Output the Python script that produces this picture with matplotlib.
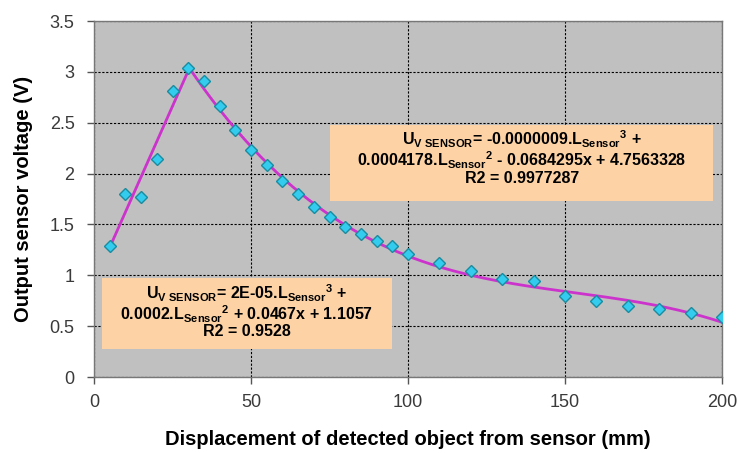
import numpy as np
import matplotlib
matplotlib.use("Agg")
import matplotlib.pyplot as plt

plt.rcParams['font.family'] = ['Liberation Sans', 'DejaVu Sans']
plt.rcParams['mathtext.fontset'] = 'custom'
plt.rcParams['mathtext.rm'] = 'Liberation Sans:bold'
plt.rcParams['mathtext.it'] = 'Liberation Sans:bold'
plt.rcParams['mathtext.bf'] = 'Liberation Sans:bold'
plt.rcParams['mathtext.default'] = 'rm'

# Data
distance_mm = [5, 10, 15, 20, 25, 30, 35, 40, 45, 50, 55, 60, 65, 70, 75, 80,
               85, 90, 95, 100, 110, 120, 130, 140, 150, 160, 170, 180, 190, 200]
voltage_v = [1.29, 1.80, 1.77, 2.14, 2.81, 3.04, 2.91, 2.66, 2.43, 2.23, 2.08,
             1.93, 1.80, 1.67, 1.57, 1.47, 1.41, 1.34, 1.29, 1.21, 1.12, 1.04,
             0.96, 0.94, 0.80, 0.75, 0.70, 0.67, 0.63, 0.59]
split_mm = 30
fit_degree_left = 1
fit_degree_right = 3
x_ticks = [0, 50, 100, 150, 200]
y_ticks = [0, 0.5, 1, 1.5, 2, 2.5, 3, 3.5]
y_tick_labels = ['0', '0.5', '1', '1.5', '2', '2.5', '3', '3.5']

eq_left = ("U$_{\\mathrm{V\\ SENSOR}}$= 2E-05.L$_{\\mathrm{Sensor}}$$^{\\mathrm{3}}$ +\n"
           "0.0002.L$_{\\mathrm{Sensor}}$$^{\\mathrm{2}}$ + 0.0467x + 1.1057\n"
           "R2 = 0.9528")
eq_right = ("U$_{\\mathrm{V\\ SENSOR}}$= -0.0000009.L$_{\\mathrm{Sensor}}$$^{\\mathrm{3}}$ +\n"
            "0.0004178.L$_{\\mathrm{Sensor}}$$^{\\mathrm{2}}$ - 0.0684295x + 4.7563328\n"
            "R2 = 0.9977287")

x = np.array(distance_mm, dtype=float)
y = np.array(voltage_v, dtype=float)

fig = plt.figure(figsize=(7.39, 4.53), dpi=100)
ax = fig.add_axes([94/739, 1 - 377/453, (722-94)/739, (377-21)/453])
ax.set_facecolor('#c0c0c0')

# trend lines (polynomial fits on each segment)
for mask, deg in ((x <= split_mm, fit_degree_left), (x >= split_mm, fit_degree_right)):
    c = np.polyfit(x[mask], y[mask], deg)
    xs = np.linspace(x[mask].min(), x[mask].max(), 200)
    ax.plot(xs, np.polyval(c, xs), color='#cc33cc', lw=2, zorder=3)

ax.plot(x, y, linestyle='none', marker='D', markersize=6.5,
        markerfacecolor='#33ccee', markeredgecolor='#1a8ca0', markeredgewidth=1, zorder=4)

ax.set_xlim(0, 200)
ax.set_ylim(0, 3.5)
ax.set_xticks(x_ticks)
ax.set_yticks(y_ticks)
ax.set_yticklabels(y_tick_labels)
ax.tick_params(axis='both', labelsize=13, color='#555555', length=5, width=1,
               labelcolor='#3a3a3a')
ax.tick_params(axis='y', pad=9)
ax.tick_params(axis='x', pad=7)
ax.grid(True, color='black', linestyle=(0, (2, 1.5)), linewidth=0.8)
ax.set_axisbelow(True)
for s in ax.spines.values():
    s.set_color('#777777')
    s.set_linewidth(1)

ax.set_xlabel('Displacement of detected object from sensor (mm)', fontsize=14.5,
              fontweight='bold', labelpad=14)
ax.set_ylabel('Output sensor voltage (V)', fontsize=14.5, fontweight='bold', labelpad=12)

box_color = '#fdd3a5'
# left box
ax.add_patch(plt.Rectangle((2.4, 0.28), 92.6, 0.69, transform=ax.transData,
                           facecolor=box_color, edgecolor='none', zorder=5))
ax.text(48.7, 0.93, eq_left, ha='center', va='top', fontsize=11.5,
        fontweight='bold', linespacing=0.97, zorder=6)
# right box
ax.add_patch(plt.Rectangle((75.2, 1.73), 122, 0.75, transform=ax.transData,
                           facecolor=box_color, edgecolor='none', zorder=5))
ax.text(136.2, 2.44, eq_right, ha='center', va='top', fontsize=11.5,
        fontweight='bold', linespacing=0.97, zorder=6)

fig.savefig('out.png', dpi=100)
